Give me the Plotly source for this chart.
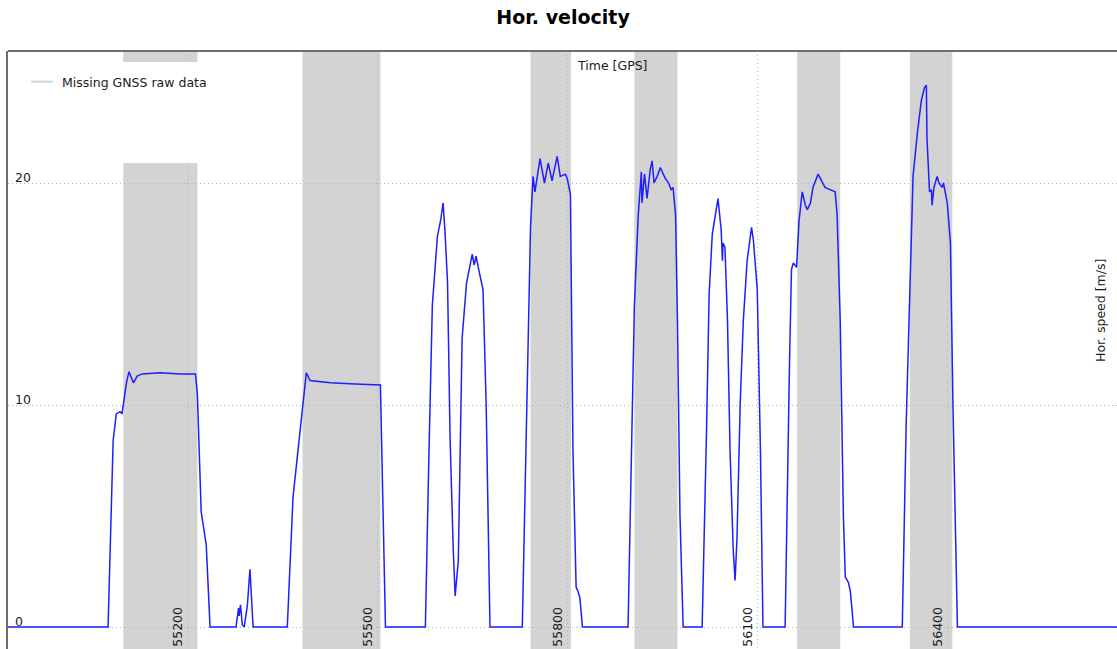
import plotly.graph_objects as go

# Horizontal speed over GPS time
time_gps = [
    54917, 55075, 55083, 55088, 55094, 55097, 55104, 55108, 55115, 55121,
    55129, 55157, 55189, 55213, 55216, 55219, 55222, 55230, 55236,
    55277, 55281, 55282, 55284, 55287, 55290, 55295, 55299, 55304,
    55358, 55367, 55375, 55383, 55388, 55394, 55426, 55465, 55502, 55505, 55513,
    55576, 55581, 55587, 55595, 55600, 55604, 55607, 55611, 55615, 55620, 55623,
    55628, 55634, 55641, 55647, 55650, 55653, 55656, 55661, 55667, 55672, 55678,
    55729, 55742, 55746, 55749, 55757, 55764, 55770, 55776, 55784, 55789, 55797,
    55800, 55805, 55809, 55814, 55817, 55820, 55824,
    55896, 55906, 55912, 55917, 55918, 55922, 55926, 55931, 55934, 55937, 55942,
    55947, 55950, 55955, 55960, 55964, 55967, 55971, 55974, 55978, 55983,
    56013, 56020, 56024, 56029, 56034, 56038, 56043, 56045, 56046, 56049, 56053,
    56057, 56062, 56065, 56068, 56073, 56078, 56084, 56091, 56094, 56100, 56105, 56109,
    56144, 56151, 56154, 56157, 56162, 56166, 56171, 56176, 56179, 56184, 56188,
    56196, 56201, 56207, 56215, 56223, 56226, 56231, 56236, 56239, 56244, 56247, 56252,
    56329, 56335, 56342, 56346, 56353, 56359, 56364, 56367, 56368, 56372, 56375,
    56376, 56379, 56384, 56387, 56392, 56394, 56400, 56405, 56409, 56416, 56668,
]
hor_speed = [
    0.0, 0.0, 8.4, 9.6, 9.7, 9.6, 11.0, 11.5, 11.0, 11.3,
    11.4, 11.45, 11.4, 11.4, 10.5, 7.5, 5.2, 3.7, 0.0,
    0.0, 0.85, 0.5, 1.0, 0.1, 0.0, 1.0, 2.6, 0.0,
    0.0, 5.85, 8.0, 10.2, 11.45, 11.1, 11.0, 10.95, 10.9, 10.9, 0.0,
    0.0, 7.0, 14.5, 17.6, 18.3, 19.1, 17.8, 15.5, 8.5, 3.5, 1.4,
    3.0, 13.0, 15.5, 16.4, 16.8, 16.3, 16.7, 16.0, 15.2, 10.0, 0.0,
    0.0, 18.0, 20.3, 19.6, 21.1, 20.0, 20.9, 20.1, 21.2, 20.3, 20.4,
    20.2, 19.5, 8.0, 1.8, 1.6, 1.3, 0.0,
    0.0, 14.5, 18.5, 20.5, 19.1, 20.4, 19.3, 20.6, 21.0, 20.0, 20.3,
    20.7, 20.5, 20.2, 20.0, 19.7, 19.8, 18.6, 13.8, 5.0, 0.0,
    0.0, 9.0, 15.0, 17.7, 18.5, 19.3, 17.9, 16.5, 17.3, 17.1, 13.8,
    8.0, 3.5, 2.1, 4.0, 10.0, 13.8, 16.5, 18.0, 17.4, 15.2, 8.0, 0.0,
    0.0, 12.0, 16.1, 16.4, 16.2, 18.3, 19.6, 19.0, 18.8, 19.1, 19.8,
    20.4, 20.1, 19.8, 19.7, 19.6, 18.6, 13.8, 5.0, 2.25, 2.0, 1.6, 0.0,
    0.0, 9.0, 17.0, 20.3, 22.3, 23.7, 24.3, 24.4, 22.0, 19.6, 19.7,
    19.0, 19.8, 20.3, 20.0, 19.8, 20.0, 19.1, 17.3, 10.0, 0.0, 0.0,
]

# Intervals without GNSS raw data
gap_start = [55099, 55382, 55742, 55906, 56163, 56341]
gap_end = [55216, 55505, 55806, 55974, 56231, 56408]

x_ticks = [55200, 55500, 55800, 56100, 56400]
y_ticks = [0, 10, 20]

W, H = 1117, 649
M_L, M_T = 8, 51
PW, PH = W - M_L, H - M_T

FONT = "DejaVu Sans"
TEXT_COLOR = "#1a1a1a"
GAP_COLOR = "#d3d3d3"
GRID_COLOR = "#b4b4b4"
AXIS_COLOR = "#6e6e6e"
GRID_DASH = "1px,3px"


def px_x(px):
    return (px - M_L) / PW


def px_y(py):
    return (H - py) / PH


fig = go.Figure()

fig.add_trace(go.Scatter(
    x=time_gps, y=hor_speed, mode="lines",
    line=dict(color="#1e1eff", width=1.5),
    showlegend=False, hoverinfo="skip",
))

# legend entry for the shaded gaps
fig.add_trace(go.Scatter(
    x=[None], y=[None], mode="markers", name="Missing GNSS raw data",
    marker=dict(symbol="line-ew-open", size=16, color=GAP_COLOR,
                line=dict(color=GAP_COLOR, width=2)),
))

for s, e in zip(gap_start, gap_end):
    fig.add_vrect(x0=s, x1=e, fillcolor=GAP_COLOR, opacity=1,
                  line_width=0, layer="below")

# frame line along the top
fig.add_shape(type="line", xref="paper", yref="paper", x0=0, x1=1, y0=1, y1=1,
              line=dict(color=AXIS_COLOR, width=2))
# opaque legend background
fig.add_shape(type="rect", xref="paper", yref="paper",
              x0=px_x(14), x1=px_x(235), y0=px_y(163), y1=px_y(62),
              fillcolor="white", line=dict(width=0), layer="above")

annotations = []
# x tick labels, rotated, sitting inside the bottom of the plot
for v in x_ticks:
    annotations.append(dict(
        text=str(v), x=v, xref="x", y=0, yref="paper",
        xanchor="right", yanchor="bottom", textangle=-90, showarrow=False,
        xshift=-1, font=dict(family=FONT, size=12.5, color=TEXT_COLOR)))
# y tick labels, just above their grid lines
for v in y_ticks:
    annotations.append(dict(
        text=str(v), x=px_x(13), xref="paper", y=v, yref="y",
        xanchor="left", yanchor="middle", yshift=6, showarrow=False,
        font=dict(family=FONT, size=12.5, color=TEXT_COLOR)))
annotations += [
    dict(text="Time [GPS]", xref="paper", yref="paper",
         x=px_x(612), y=px_y(66), xanchor="center", yanchor="middle",
         showarrow=False, font=dict(family=FONT, size=12.5, color=TEXT_COLOR)),
    dict(text="Hor. speed [m/s]", xref="paper", yref="paper",
         x=px_x(1100), y=px_y(311), xanchor="center", yanchor="middle",
         textangle=-90, showarrow=False,
         font=dict(family=FONT, size=12.5, color=TEXT_COLOR)),
]

fig.update_layout(
    width=W, height=H,
    margin=dict(l=M_L, r=0, t=M_T, b=0, pad=0, autoexpand=False),
    paper_bgcolor="white", plot_bgcolor="white",
    font=dict(family=FONT, size=12.5, color=TEXT_COLOR),
    title=dict(text="<b>Hor. velocity</b>", x=563 / W, y=1 - 17 / H,
               xref="container", yref="container",
               xanchor="center", yanchor="middle",
               font=dict(family=FONT, size=19, color="black")),
    showlegend=True,
    legend=dict(x=px_x(22), y=px_y(67), xanchor="left", yanchor="top",
                bgcolor="rgba(0,0,0,0)", borderwidth=0,
                font=dict(family=FONT, size=12.5, color=TEXT_COLOR)),
    xaxis=dict(range=[54917, 56668], tickvals=x_ticks, showticklabels=False,
               ticks="", automargin=False,
               showgrid=True, gridcolor=GRID_COLOR, griddash=GRID_DASH, gridwidth=1,
               zeroline=False, showline=False),
    yaxis=dict(range=[-(H - 627) / 22.2, (627 - M_T) / 22.2],
               tickvals=y_ticks, showticklabels=False, ticks="", automargin=False,
               showgrid=True, gridcolor=GRID_COLOR, griddash=GRID_DASH, gridwidth=1,
               zeroline=False, showline=True, linecolor=AXIS_COLOR, linewidth=2),
    annotations=annotations,
)

fig.write_html("out.html")
